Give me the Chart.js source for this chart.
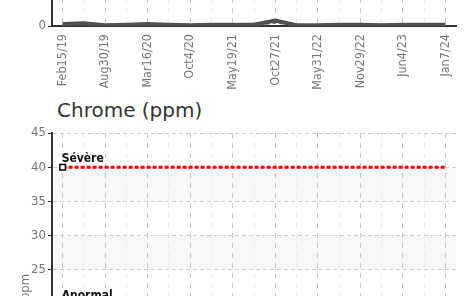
<!doctype html>
<html>

<head>
    <title>Chrome (ppm)</title>
    <script src="https://cdn.jsdelivr.net/npm/chart.js@4/dist/chart.umd.min.js"></script>
    <style>
    body {
        margin: 0;
        background: #fff;
        font-family: "DejaVu Sans", Verdana, sans-serif;
    }
    #page {
        position: relative;
        width: 466px;
        height: 296px;
        overflow: hidden;
    }
    .holder {
        position: absolute;
        left: 0;
        width: 466px;
    }
    #top-holder { top: -302px; height: 400px; }
    #chrome-holder { top: 123px; height: 390px; }
    #chrome-title {
        position: absolute;
        left: 57px;
        top: 98px;
        font-size: 20px;
        line-height: 24px;
        color: #333;
        white-space: nowrap;
    }
    </style>
</head>

<body>
    <div id="page">
        <div class="holder" id="top-holder"><canvas id="chart-top"></canvas></div>
        <div id="chrome-title">Chrome (ppm)</div>
        <div class="holder" id="chrome-holder"><canvas id="chart-chrome"></canvas></div>
    </div>
    <script>
    // dates des prélèvements
    var dates = ["Feb15/19", "May20/19", "Aug30/19", "Dec2/19", "Mar16/20", "Jun22/20", "Oct4/20", "Jan25/21",
                 "May19/21", "Aug3/21", "Oct27/21", "Feb14/22", "May31/22", "Sep1/22", "Nov29/22", "Mar8/23",
                 "Jun4/23", "Sep20/23", "Jan7/24"];
    // graphique du haut (seule la base est visible)
    var hautMesure = [0.3, 0.4, 0.1, 0.2, 0.3, 0.2, 0.1, 0.2, 0.2, 0.2, 0.8, 0.1, 0.1, 0.2, 0.2, 0.1, 0.2, 0.2, 0.2];
    var hautMesure2 = [0.2, 0.3, 0.1, 0.1, 0.2, 0.1, 0.1, 0.1, 0.1, 0.1, 0.5, 0.1, 0.1, 0.1, 0.1, 0.1, 0.1, 0.1, 0.1];
    // seuils du chrome
    var seuilNoms = ["Sévère", "Anormal"];
    var seuilValeurs = [40, 20];
    var yMax = 45;
    var yPas = 5;

    var famille = '"DejaVu Sans Condensed", "Liberation Sans Narrow", "Liberation Sans", sans-serif';
    Chart.defaults.font.family = famille;
    Chart.defaults.font.size = 12.5;

    // bandes grises alternées
    var bandes = {
        id: 'bandes',
        beforeDraw: function(chart) {
            var y = chart.scales.y, a = chart.chartArea, ctx = chart.ctx;
            var t = y.ticks, n = t.length;
            ctx.save();
            ctx.fillStyle = '#f7f7f7';
            for (var i = 1; i < n; i++) {
                if ((n - 1 - i) % 2 == 1) {
                    var y1 = y.getPixelForValue(t[i].value);
                    var y2 = y.getPixelForValue(t[i - 1].value);
                    ctx.fillRect(a.left, y1, a.right - a.left, y2 - y1);
                }
            }
            ctx.restore();
        }
    };

    // nom du seuil au-dessus du premier point
    var etiquettes = {
        id: 'etiquettes',
        afterDatasetsDraw: function(chart) {
            var ctx = chart.ctx;
            chart.data.datasets.forEach(function(ds, i) {
                if (!ds.seuil) return;
                var p = chart.getDatasetMeta(i).data[0];
                ctx.save();
                ctx.font = 'bold 12px ' + famille;
                ctx.fillStyle = '#111';
                ctx.textBaseline = 'alphabetic';
                ctx.fillText(ds.label, p.x - 1, p.y - 5);
                ctx.restore();
            });
        }
    };

    function axeX() {
        return {
            type: 'category',
            offset: true,
            grid: {
                color: function(c) { return c.index % 2 ? '#ececec' : '#c8c8c8'; },
                tickColor: 'rgba(0,0,0,0)',
                tickLength: 5
            },
            border: { color: '#333', width: 2, dash: [5, 5] },
            ticks: {
                autoSkip: false,
                maxRotation: 90,
                minRotation: 90,
                padding: 3,
                color: '#777',
                callback: function(v, i) { return i % 2 ? '' : this.getLabelForValue(v); }
            },
            afterFit: function(s) { s.height = 72; }
        };
    }

    function axeY() {
        return {
            min: 0,
            max: yMax,
            ticks: { stepSize: yPas, color: '#777', padding: 2, font: { size: 13 } },
            grid: { color: '#cfcfcf', tickColor: '#333', tickLength: 4 },
            border: { color: '#333', width: 2, dash: [4, 3] },
            title: { display: true, text: 'ppm', color: '#777', font: { size: 13 }, padding: { top: 18, bottom: 0 } },
            afterFit: function(s) { s.width = 52; }
        };
    }

    function options(hautPad) {
        return {
            responsive: true,
            maintainAspectRatio: false,
            animation: false,
            layout: { padding: { top: hautPad, right: 10, left: 0, bottom: 0 } },
            plugins: { legend: { display: false }, tooltip: { enabled: false } },
            scales: { x: axeX(), y: axeY() }
        };
    }

    var seuilDatasets = seuilNoms.map(function(nom, k) {
        return {
            label: nom,
            seuil: true,
            data: dates.map(function() { return seuilValeurs[k]; }),
            borderColor: k == 0 ? '#ff0000' : '#ffa500',
            borderWidth: 3,
            borderDash: [4, 2],
            pointStyle: 'rect',
            pointRadius: function(c) { return c.dataIndex == 0 ? 4 : 0; },
            pointBorderColor: '#000',
            pointBackgroundColor: '#fff',
            pointBorderWidth: 1.5
        };
    });

    window.onload = function() {
        new Chart(document.getElementById('chart-top').getContext('2d'), {
            type: 'line',
            data: {
                labels: dates,
                datasets: [{
                    label: 'mesure',
                    data: hautMesure,
                    borderColor: '#505050',
                    borderWidth: 4,
                    pointRadius: 0
                }, {
                    label: 'mesure 2',
                    data: hautMesure2,
                    borderColor: '#666',
                    borderWidth: 2,
                    borderDash: [4, 3],
                    pointRadius: 0
                }]
            },
            options: options(20),
            plugins: [bandes]
        });

        new Chart(document.getElementById('chart-chrome').getContext('2d'), {
            type: 'line',
            data: { labels: dates, datasets: seuilDatasets },
            options: options(10),
            plugins: [bandes, etiquettes]
        });
    };
    </script>
</body>

</html>
